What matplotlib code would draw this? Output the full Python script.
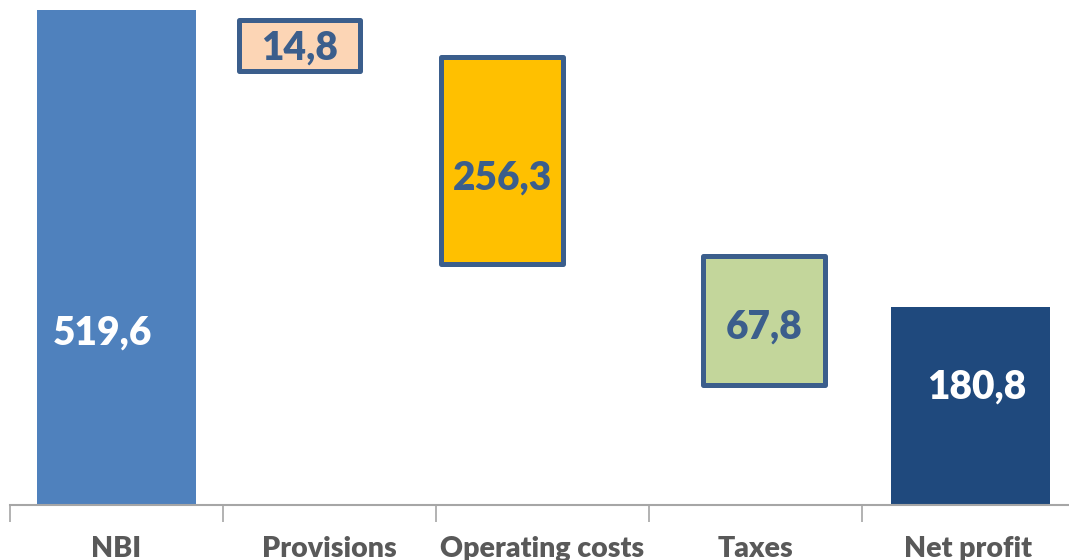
import matplotlib.pyplot as plt
from matplotlib.patches import FancyBboxPatch

categories = ["NBI", "Provisions", "Operating costs", "Taxes", "Net profit"]
labels = ["519,6", "14,8", "256,3", "67,8", "180,8"]
# bar extents as drawn in the picture (not to scale with the labels)
bar_bottom = [0.0, 455.6, 253.0, 126.0, 0.0]
bar_top = [519.6, 509.1, 470.3, 261.4, 207.8]

colors = ["#4F81BD", "#FCD5B5", "#FFC000", "#C3D69B", "#1F497D"]
text_colors = ["white", "#3B5E8C", "#3B5E8C", "#3B5E8C", "white"]
boxed = [False, True, True, True, False]
shift = [0.0, -0.14, -0.19, 0.04, 0.01]
widths = [0.746, 0.57, 0.57, 0.57, 0.746]
text_y = [181, 480, 343, 187, 124]
text_dx = [-0.065, 0.0, 0.0, 0.0, 0.03]

plt.rcParams['font.family'] = ['Lato', 'DejaVu Sans']

fig = plt.figure(figsize=(10.69, 5.6), dpi=100)
ax = fig.add_axes([10 / 1069, 55 / 560, 1065 / 1069, 495 / 560])
ax.set_xlim(-0.5, 4.5)
ax.set_ylim(0, 519.6)

for i in range(len(categories)):
    x = i + shift[i]
    w = widths[i]
    h = bar_top[i] - bar_bottom[i]
    if boxed[i]:
        p = FancyBboxPatch((x - w / 2, bar_bottom[i]), w, h,
                           boxstyle="square,pad=0", facecolor=colors[i],
                           edgecolor="#3B5E8C", linewidth=3.6,
                           joinstyle="round", clip_on=False, zorder=3)
        ax.add_patch(p)
    else:
        ax.bar(x, h, bottom=bar_bottom[i], width=w, color=colors[i],
               zorder=2)
    ax.text(x + text_dx[i], text_y[i], labels[i], ha="center", va="center",
            fontsize=28, fontweight="heavy", color=text_colors[i], zorder=4)

for s in ["top", "right", "left"]:
    ax.spines[s].set_visible(False)
ax.spines["bottom"].set_color("#A6A6A6")
ax.spines["bottom"].set_linewidth(1.5)
ax.set_yticks([])
ax.set_xticks(range(len(categories)))
ax.set_xticklabels(categories, fontsize=20.5, fontweight="heavy", color="#595959")
ax.tick_params(axis="x", which="major", length=0, pad=22)
ax.set_xticks([-0.5, 0.5, 1.5, 2.5, 3.5, 4.5], minor=True)
ax.tick_params(axis="x", which="minor", length=12, width=1.2, color="#A6A6A6")

fig.savefig("out.png", dpi=100)
